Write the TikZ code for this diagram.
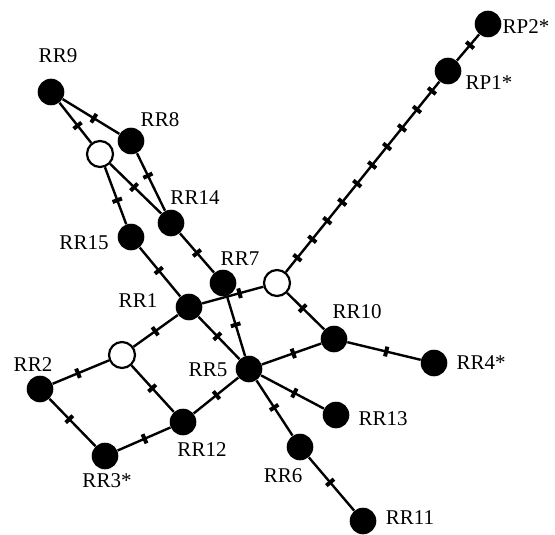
\documentclass[tikz,border=0pt]{standalone}
\usepackage{fontspec}
\setmainfont{Liberation Serif}
\usetikzlibrary{decorations.markings,backgrounds}
\tikzset{
  hap/.style={circle,fill=black,inner sep=0pt,minimum size=13.3pt},
  med/.style={circle,draw=black,line width=1.1pt,fill=white,inner sep=0pt,minimum size=13pt},
  lbl/.style={inner sep=0pt,font=\fontsize{10.5}{12}\selectfont},
  link/.style={line width=1.2pt},
  mutbar/.style={line width=2pt},
  mut/.style={postaction={decorate,decoration={markings,
      mark=at position #1 with {\draw[mutbar] (0,-2.5pt) -- (0,2.5pt);}}}},
  mut/.default=0.5,
  mutrun/.style={postaction={decorate,decoration={markings,
      mark=between positions 0.075 and 0.955 step 0.0974 with {\draw[mutbar] (0,-2.5pt) -- (0,2.5pt);}}}},
}
\begin{document}
\begin{tikzpicture}[x=0.5pt,y=-0.5pt]
\useasboundingbox (0,0) rectangle (555,534);

% haplotypes
\node[hap] (RP2)  at (488,24)  {};
\node[hap] (RP1)  at (448,71)  {};
\node[hap] (RR9)  at (51,92)   {};
\node[hap] (RR8)  at (131,141) {};
\node[hap] (RR14) at (171,223) {};
\node[hap] (RR15) at (131,237) {};
\node[hap] (RR7)  at (223,283) {};
\node[hap] (RR1)  at (189,307) {};
\node[hap] (RR10) at (334,339) {};
\node[hap] (RR4)  at (434,363) {};
\node[hap] (RR5)  at (249,369) {};
\node[hap] (RR2)  at (40,389)  {};
\node[hap] (RR12) at (183,422) {};
\node[hap] (RR13) at (336,415) {};
\node[hap] (RR3)  at (105,456) {};
\node[hap] (RR6)  at (300,447) {};
\node[hap] (RR11) at (363,521) {};

% median vectors
\node[med] (M1) at (277,283) {};
\node[med] (M2) at (100,154) {};
\node[med] (M3) at (122,355) {};

% links with mutation bars
\begin{pgfonlayer}{background}
\draw[link,mut=0.55] (RR9) -- (RR8);
\draw[link,mut=0.57] (RR9) -- (M2);
\draw[link,mut=0.39] (RR8) -- (RR14);
\draw[link,mut=0.47] (M2) -- (RR14);
\draw[link,mut=0.58] (M2) -- (RR15);
\draw[link,mut=0.50] (RR14) -- (RR7);
\draw[link,mut=0.47] (RR15) -- (RR1);
\draw[link,mut=0.61] (RR1) -- (M1);
\draw[link,mut=0.48] (RR7) -- (RR5);
\draw[link,mut=0.46] (RR1) -- (RR5);
\draw[link,mut=0.42] (M1) -- (RR10);
\draw[link,mut=0.53] (RR5) -- (RR10);
\draw[link,mut=0.53] (RR10) -- (RR4);
\draw[link,mut=0.53] (RR5) -- (RR13);
\draw[link,mut=0.49] (RR5) -- (RR6);
\draw[link,mut=0.47] (RR6) -- (RR11);
\draw[link,mut=0.49] (RR5) -- (RR12);
\draw[link,mut=0.49] (M3) -- (RR1);
\draw[link,mut=0.55] (M3) -- (RR2);
\draw[link,mut=0.49] (M3) -- (RR12);
\draw[link,mut=0.43] (RR2) -- (RR3);
\draw[link,mut=0.51] (RR3) -- (RR12);
\draw[link,mut=0.59] (RP1) -- (RP2);
\draw[link,mutrun] (M1) -- (RP1);
\end{pgfonlayer}

% labels
\node[lbl] (tRR9)  at (58,56)   {RR9};
\node[lbl] (tRR8)  at (160,120) {RR8};
\node[lbl] (tRR14) at (195,198) {RR14};
\node[lbl] (tRR15) at (84,243)  {RR15};
\node[lbl] (tRR7)  at (240,259) {RR7};
\node[lbl] (tRR1)  at (138,301) {RR1};
\node[lbl] (tRR10) at (357,312) {RR10};
\node[lbl] (tRR4)  at (481,363) {RR4*};
\node[lbl] (tRR5)  at (208,370) {RR5};
\node[lbl] (tRR2)  at (33,365)  {RR2};
\node[lbl] (tRR12) at (202,450) {RR12};
\node[lbl] (tRR13) at (383,419) {RR13};
\node[lbl] (tRR3)  at (107,481) {RR3*};
\node[lbl] (tRR6)  at (283,476) {RR6};
\node[lbl] (tRR11) at (410,518) {RR11};
\node[lbl] (tRP2)  at (526,27)  {RP2*};
\node[lbl] (tRP1)  at (489,83)  {RP1*};
\end{tikzpicture}
\end{document}
